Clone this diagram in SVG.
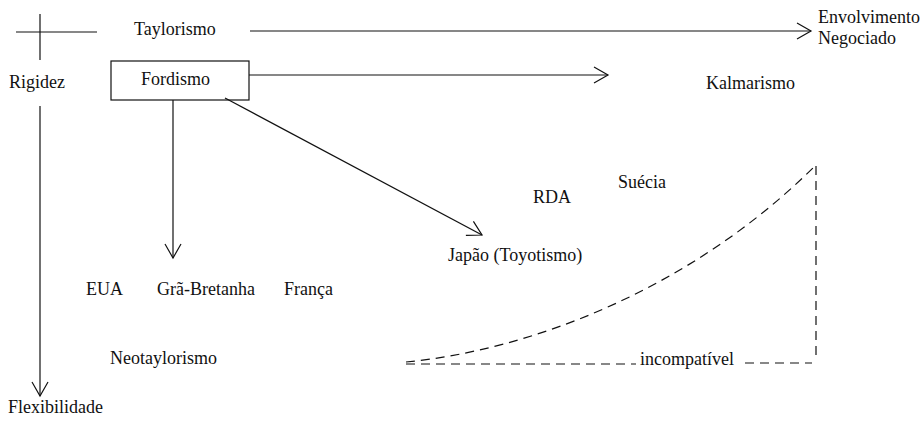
<svg xmlns="http://www.w3.org/2000/svg" width="922" height="424" viewBox="0 0 922 424">
<style>
text{font-family:"Liberation Serif","Times New Roman","DejaVu Serif",serif;font-size:18px;fill:#111}
.l{stroke:#111;stroke-width:1.2;fill:none}
.d{stroke:#111;stroke-width:1.2;fill:none;stroke-dasharray:9 6}
</style>
<defs>
<marker id="ah" markerWidth="18" markerHeight="18" refX="16" refY="9" orient="auto" markerUnits="userSpaceOnUse">
<path d="M2,1 L16,9 L2,17" fill="none" stroke="#111" stroke-width="1.2"/>
</marker>
</defs>
<rect width="922" height="424" fill="#fff"/>
<g id="connectors">
<line class="l" x1="16" y1="32" x2="97" y2="32"/>
<line class="l" x1="40" y1="14" x2="40" y2="60"/>
<line class="l" x1="40" y1="106" x2="40" y2="396" marker-end="url(#ah)"/>
<line class="l" x1="250" y1="31" x2="811" y2="31" marker-end="url(#ah)"/>
<line class="l" x1="249" y1="75" x2="608" y2="75" marker-end="url(#ah)"/>
<line class="l" x1="173" y1="100" x2="173" y2="258" marker-end="url(#ah)"/>
<line class="l" x1="225" y1="98" x2="482" y2="235" marker-end="url(#ah)"/>
<path class="d" d="M406,362 C530,350 690,290 815,166"/>
<line class="d" x1="816" y1="166" x2="816" y2="360"/>
<line class="d" x1="406" y1="364" x2="636" y2="364"/>
<line class="d" x1="745" y1="363" x2="812" y2="363"/>
</g>
<g id="taylorismo"><text x="134" y="35">Taylorismo</text></g>
<g id="rigidez"><text x="9" y="88">Rigidez</text></g>
<g id="fordismo"><rect class="l" x="111" y="61" width="138" height="39"/><text x="141" y="85">Fordismo</text></g>
<g id="envolvimento"><text x="818" y="23">Envolvimento</text><text x="818" y="44">Negociado</text></g>
<g id="kalmarismo"><text x="706" y="89">Kalmarismo</text></g>
<g id="suecia"><text x="618" y="188">Suécia</text></g>
<g id="rda"><text x="533" y="203">RDA</text></g>
<g id="japao"><text x="448" y="261">Japão (Toyotismo)</text></g>
<g id="eua"><text x="86" y="295">EUA</text></g>
<g id="gra"><text x="157" y="295">Grã-Bretanha</text></g>
<g id="franca"><text x="284" y="295">França</text></g>
<g id="neotaylorismo"><text x="110" y="364">Neotaylorismo</text></g>
<g id="incompativel"><text x="640" y="365">incompatível</text></g>
<g id="flexibilidade"><text x="8" y="413">Flexibilidade</text></g>
</svg>
